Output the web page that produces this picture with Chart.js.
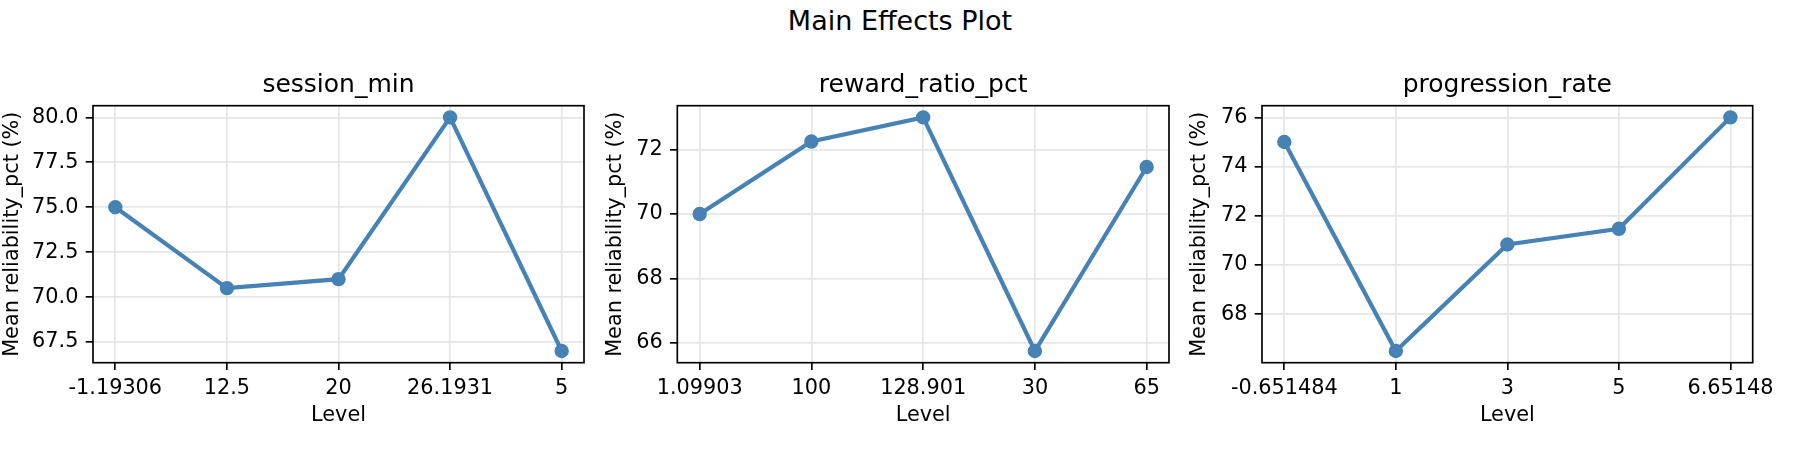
<!DOCTYPE html>
<html>
<head>
<meta charset="utf-8">
<script src="https://cdn.jsdelivr.net/npm/chart.js@4.4.1/dist/chart.umd.min.js"></script>
<style>
  body { margin: 0; background: #fff; width: 1800px; height: 450px; position: relative; overflow: hidden; font-family: 'DejaVu Sans', sans-serif; }
  #suptitle { position: absolute; left: 0; top: 7px; width: 1800px; text-align: center; font-size: 27px; line-height: 27px; color: #000; }
  .panel { position: absolute; top: 0; height: 450px; }
</style>
</head>
<body>
<div id="suptitle">Main Effects Plot</div>
<div class="panel" style="left:0px;width:600px"><canvas id="c1"></canvas></div>
<div class="panel" style="left:603px;width:580px"><canvas id="c2"></canvas></div>
<div class="panel" style="left:1187px;width:613px"><canvas id="c3"></canvas></div>
<script>
// levels (x tick labels) and mean values per factor
const sessionLevels = ['-1.19306', '12.5', '20', '26.1931', '5']
const sessionMeans = [75.0, 70.5, 71.0, 80.0, 67.0]
const sessionTicks = [67.5, 70, 72.5, 75, 77.5, 80]

const rewardLevels = ['1.09903', '100', '128.901', '30', '65']
const rewardMeans = [70.0, 72.25, 73.0, 65.75, 71.46]
const rewardTicks = [66, 68, 70, 72]

const progressionLevels = ['-0.651484', '1', '3', '5', '6.65148']
const progressionMeans = [75.0, 66.5, 70.83, 71.47, 76.0]
const progressionTicks = [68, 70, 72, 74, 76]

Chart.defaults.font.family = "'DejaVu Sans', sans-serif"
Chart.defaults.color = '#000'

const frame = {
    id: 'frame',
    afterDraw(chart) {
        const { ctx, chartArea: a } = chart
        ctx.save()
        ctx.strokeStyle = '#000'
        ctx.lineWidth = 1.67
        ctx.strokeRect(a.left, a.top, a.right - a.left, a.bottom - a.top)
        ctx.restore()
    }
}

function yRange(values) {
    const lo = Math.min(...values)
    const hi = Math.max(...values)
    const m = (hi - lo) * 0.05
    return [lo - m, hi + m]
}

function makePanel(id, title, levels, means, yTicks, decimals, axisWidth, padRight) {
    const [ymin, ymax] = yRange(means)
    const grid = { color: '#e6e6e6', lineWidth: 1.67, tickColor: '#000', tickLength: 7.3, tickWidth: 1.67 }
    const tickFont = { size: 20.8 }

    new Chart(document.getElementById(id), {
        type: 'line',
        data: {
            datasets: [{
                data: means.map((v, i) => ({ x: i, y: v })),
                borderColor: '#4682b4',
                borderWidth: 4.2,
                pointRadius: 6.4,
                pointBorderWidth: 1.6,
                pointBackgroundColor: '#4682b4',
                pointBorderColor: '#4682b4',
                tension: 0
            }]
        },
        options: {
            responsive: true,
            maintainAspectRatio: false,
            animation: false,
            layout: { padding: { left: 0, right: padRight, top: 0, bottom: 0 } },
            plugins: {
                legend: { display: false },
                tooltip: { enabled: false },
                title: {
                    display: true,
                    text: title,
                    fullSize: false,
                    color: '#000',
                    font: { size: 25, weight: 'normal' },
                    padding: { top: 70, bottom: 5.7 }
                }
            },
            scales: {
                x: {
                    type: 'linear',
                    min: -0.2,
                    max: 4.2,
                    afterBuildTicks: s => { s.ticks = levels.map((_, i) => ({ value: i })) },
                    afterFit: s => { s.height = 87.3 },
                    ticks: {
                        callback: v => levels[v],
                        autoSkip: false,
                        maxRotation: 0,
                        padding: 6.5,
                        font: tickFont
                    },
                    grid: grid,
                    border: { display: false },
                    title: { display: true, text: 'Level', font: { size: 20.8 }, padding: { top: 0, bottom: 21.5 } }
                },
                y: {
                    type: 'linear',
                    min: ymin,
                    max: ymax,
                    afterBuildTicks: s => { s.ticks = yTicks.map(v => ({ value: v })) },
                    afterFit: s => { s.width = axisWidth },
                    ticks: {
                        callback: v => v.toFixed(decimals),
                        padding: 7.3,
                        font: tickFont
                    },
                    grid: grid,
                    border: { display: false },
                    title: { display: true, text: 'Mean reliability_pct (%)', font: { size: 20.8 }, padding: 0 }
                }
            }
        },
        plugins: [frame]
    })
}

makePanel('c1', 'session_min', sessionLevels, sessionMeans, sessionTicks, 1, 93, 16)
makePanel('c2', 'reward_ratio_pct', rewardLevels, rewardMeans, rewardTicks, 0, 74.3, 14)
makePanel('c3', 'progression_rate', progressionLevels, progressionMeans, progressionTicks, 0, 75, 47.3)
</script>
</body>
</html>
